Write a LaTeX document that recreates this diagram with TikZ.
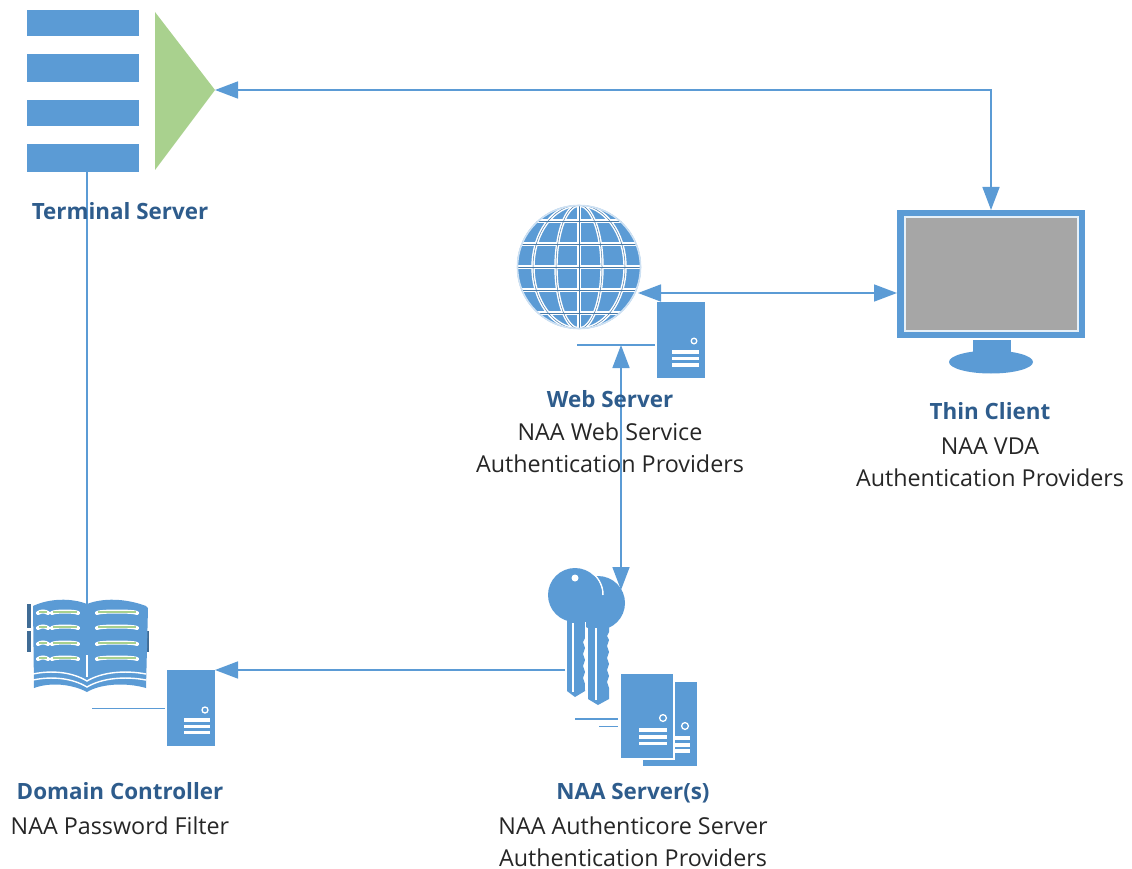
\documentclass[tikz,border=0pt]{standalone}
\usepackage{fontspec}
\setmainfont{Open Sans}
\usetikzlibrary{arrows.meta}
\definecolor{iconblue}{HTML}{5B9BD5}
\definecolor{linkblue}{HTML}{5B9BD5}
\definecolor{headblue}{HTML}{2E5C8C}
\definecolor{tsgreen}{HTML}{A9D18E}
\definecolor{bookgreen}{HTML}{A9D18E}
\definecolor{screengrey}{HTML}{A6A6A6}
\definecolor{txtgrey}{HTML}{262626}
\tikzset{
  link/.style={draw=linkblue,line width=1.6pt,{Triangle[length=23pt,width=17pt]}-{Triangle[length=23pt,width=17pt]}},
  plainlink/.style={draw=linkblue,line width=1.6pt},
  tick/.style={draw=iconblue,line width=1.8pt},
  bar/.style={draw=white,line width=3.2pt},
  box/.style={rectangle,fill=iconblue,draw=none,inner sep=0pt,outer sep=0pt},
  head/.style={text=headblue,font=\fontsize{22.4}{24}\selectfont\bfseries,inner sep=0pt,anchor=base},
  body/.style={text=txtgrey,font=\fontsize{23.3}{24}\selectfont,inner sep=0pt,anchor=base},
  grid/.style={draw=white,line width=3.4pt},
  gridc/.style={draw=iconblue!80!black,line width=.5pt},
}
\begin{document}
\begin{tikzpicture}[x=1pt,y=-1pt]
\useasboundingbox (0,0) rectangle (1132,869);
% Terminal server
\foreach \a/\b in {10/36,54/82,100/126,144/172}{\fill[iconblue] (27,\a) rectangle (139,\b);}
\fill[tsgreen] (155,12) -- (215,90) -- (155,170) -- cycle;
\coordinate (tstip) at (215,90);
\coordinate (tsbase) at (87,172);
% Thin client
\node[box,minimum width=188pt,minimum height=128pt] (thin) at (991,274) {};
\fill[white,opacity=.85] (904,216) rectangle (1079,332);
\fill[screengrey] (906,218) rectangle (1077,330);
\fill[iconblue] (991,362) ellipse [x radius=42,y radius=11.5];
\fill[iconblue] (973,340) rectangle (1011,358);
% Globe
\fill[iconblue] (579,267) circle [radius=62];
\begin{scope}
\clip (579,267) circle [radius=62];
\foreach \s in {grid,gridc}{
  \foreach \d in {-46,-23,0,23,46}{\draw[\s] (510,267+\d) -- (650,267+\d);}
  \draw[\s] (579,200) -- (579,335);
  \foreach \r in {23,46}{\draw[\s] (579,267) ellipse [x radius=\r,y radius=62];}
}
\end{scope}
\draw[white!70!iconblue,line width=1.6pt] (579,267) circle [radius=61.5];
\coordinate (globetip) at (638,293);
% Web server
\node[box,minimum width=48pt,minimum height=76pt] (websrv) at (681,340) {};
\draw[white,line width=1.3pt] (694,341) circle [radius=2.8];
\foreach \y in {352,358.5,365}{\draw[bar,line width=3.2pt] (672,\y) -- (699,\y);}
\draw[tick] (577,345) -- (655,345);
\coordinate (webfoot) at (621,345);
% Keys
\fill[iconblue] (588,620) -- (609,620) -- (609,632) -- (607,636) -- (609,640) -- (607,646) -- (609,652) -- (607,658) -- (609,664) -- (607,670) -- (609,676) -- (607,682) -- (609,688) -- (609,699) -- (598,705) -- (588,699) -- cycle;
\fill[iconblue] (598,603) circle [radius=27];
\draw[white,line width=1.5pt] (596,628) -- (596,700);
\fill[iconblue] (567,610) -- (585,610) -- (585,638) -- (583,642) -- (585,648) -- (583,654) -- (585,660) -- (583,666) -- (585,672) -- (583,678) -- (585,684) -- (585,691) -- (575,697) -- (567,691) -- cycle;
\draw[white,line width=1.5pt] (585.5,622) -- (585.5,690);
\draw[white,line width=1.5pt] (575,595) ++(0:28) arc[start angle=0,end angle=-110,radius=28];
\fill[iconblue] (575,595) circle [radius=27];
\fill[white] (575,578) circle [radius=3.5];
\draw[white,line width=1.5pt] (573,623) -- (573,692);
\coordinate (keytip) at (621,590);
\coordinate (keyleft) at (565,670);
% NAA servers
\node[box,minimum width=54pt,minimum height=84pt] (naarear) at (670,724) {};
\draw[white,line width=1.3pt] (685,726) circle [radius=3.4];
\foreach \y in {738,745,751}{\draw[bar,line width=3.2pt] (672,\y) -- (690,\y);}
\fill[white] (619.5,672.5) rectangle (674.5,760);
\node[box,minimum width=52pt,minimum height=84pt] (naafront) at (647,716) {};
\draw[white,line width=1.3pt] (663,718) circle [radius=3.4];
\foreach \y in {730,737,743.5}{\draw[bar,line width=3.2pt] (639,\y) -- (667,\y);}
\draw[tick] (575,719) -- (618,719);
\draw[tick] (599,726.5) -- (618,726.5);
% Book
\fill[iconblue!70!black] (27,604) rectangle (31,628);
\fill[iconblue!70!black] (27,631) rectangle (31,652);
\fill[iconblue!70!black] (146,631) rectangle (149,652);
\fill[iconblue] (33,606) .. controls (50,598) and (72,598) .. (87,604) .. controls (102,598) and (125,598) .. (146,606)
  -- (148,608) -- (146,688) .. controls (125,682) and (100,684) .. (87,692) .. controls (72,684) and (50,682) .. (34,688) -- cycle;
\draw[white,line width=1.8pt] (87,623) -- (87,677);
\foreach \o in {0,6}{
  \draw[white,line width=1.4pt] (33,674+\o) .. controls (52,670+\o) and (72,672+\o) .. (87,681+\o) .. controls (102,672+\o) and (125,670+\o) .. (146,674+\o);
}
\foreach \y in {612,627,643,658}{
  \foreach \a/\b in {38/48,52/78,97/137}{
    \draw[white,line width=4pt,line cap=round] (\a,\y+1) .. controls (\a+3,\y-1) and (\b-3,\y-1) .. (\b,\y+1);
    \draw[bookgreen,line width=1.3pt] (\a+1,\y) -- (\b-1,\y);
  }
}
\coordinate (bookspine) at (87,655);
% DC server
\node[box,minimum width=48pt,minimum height=76pt] (dcsrv) at (191,708) {};
\draw[white,line width=1.3pt] (205,710) circle [radius=3];
\foreach \y in {720,726.5,732.5}{\draw[bar,line width=3.2pt] (184,\y) -- (210,\y);}
\draw[tick] (92,708.5) -- (165,708.5);
% Connectors
\draw[link] (tstip) -| (thin.north);
\draw[link] (globetip) -- (thin.west |- globetip);
\draw[link] (webfoot) -- (keytip);
\draw[plainlink,-{Triangle[length=23pt,width=17pt]}] (keyleft) -- (dcsrv.north east |- keyleft);
\draw[plainlink] (tsbase) -- (bookspine);
% Labels
\node[head] (tslabel) at (120,219.5) {Terminal Server};
\node[head] (weblabel) at (610,407.5) {Web Server};
\node[body] (webl2) at (610,440) {NAA Web Service};
\node[body] (webl3) at (610,472) {Authentication Providers};
\node[head] (thinlabel) at (990,419.5) {Thin Client};
\node[body] (thinl2) at (990,454) {NAA VDA};
\node[body] (thinl3) at (990,486) {Authentication Providers};
\node[head] (dclabel) at (120,799.5) {Domain Controller};
\node[body] (dcl2) at (120,834) {NAA Password Filter};
\node[head] (naalabel) at (633,799.5) {NAA Server(s)};
\node[body] (naal2) at (633,834) {NAA Authenticore Server};
\node[body] (naal3) at (633,866) {Authentication Providers};
\end{tikzpicture}
\end{document}
